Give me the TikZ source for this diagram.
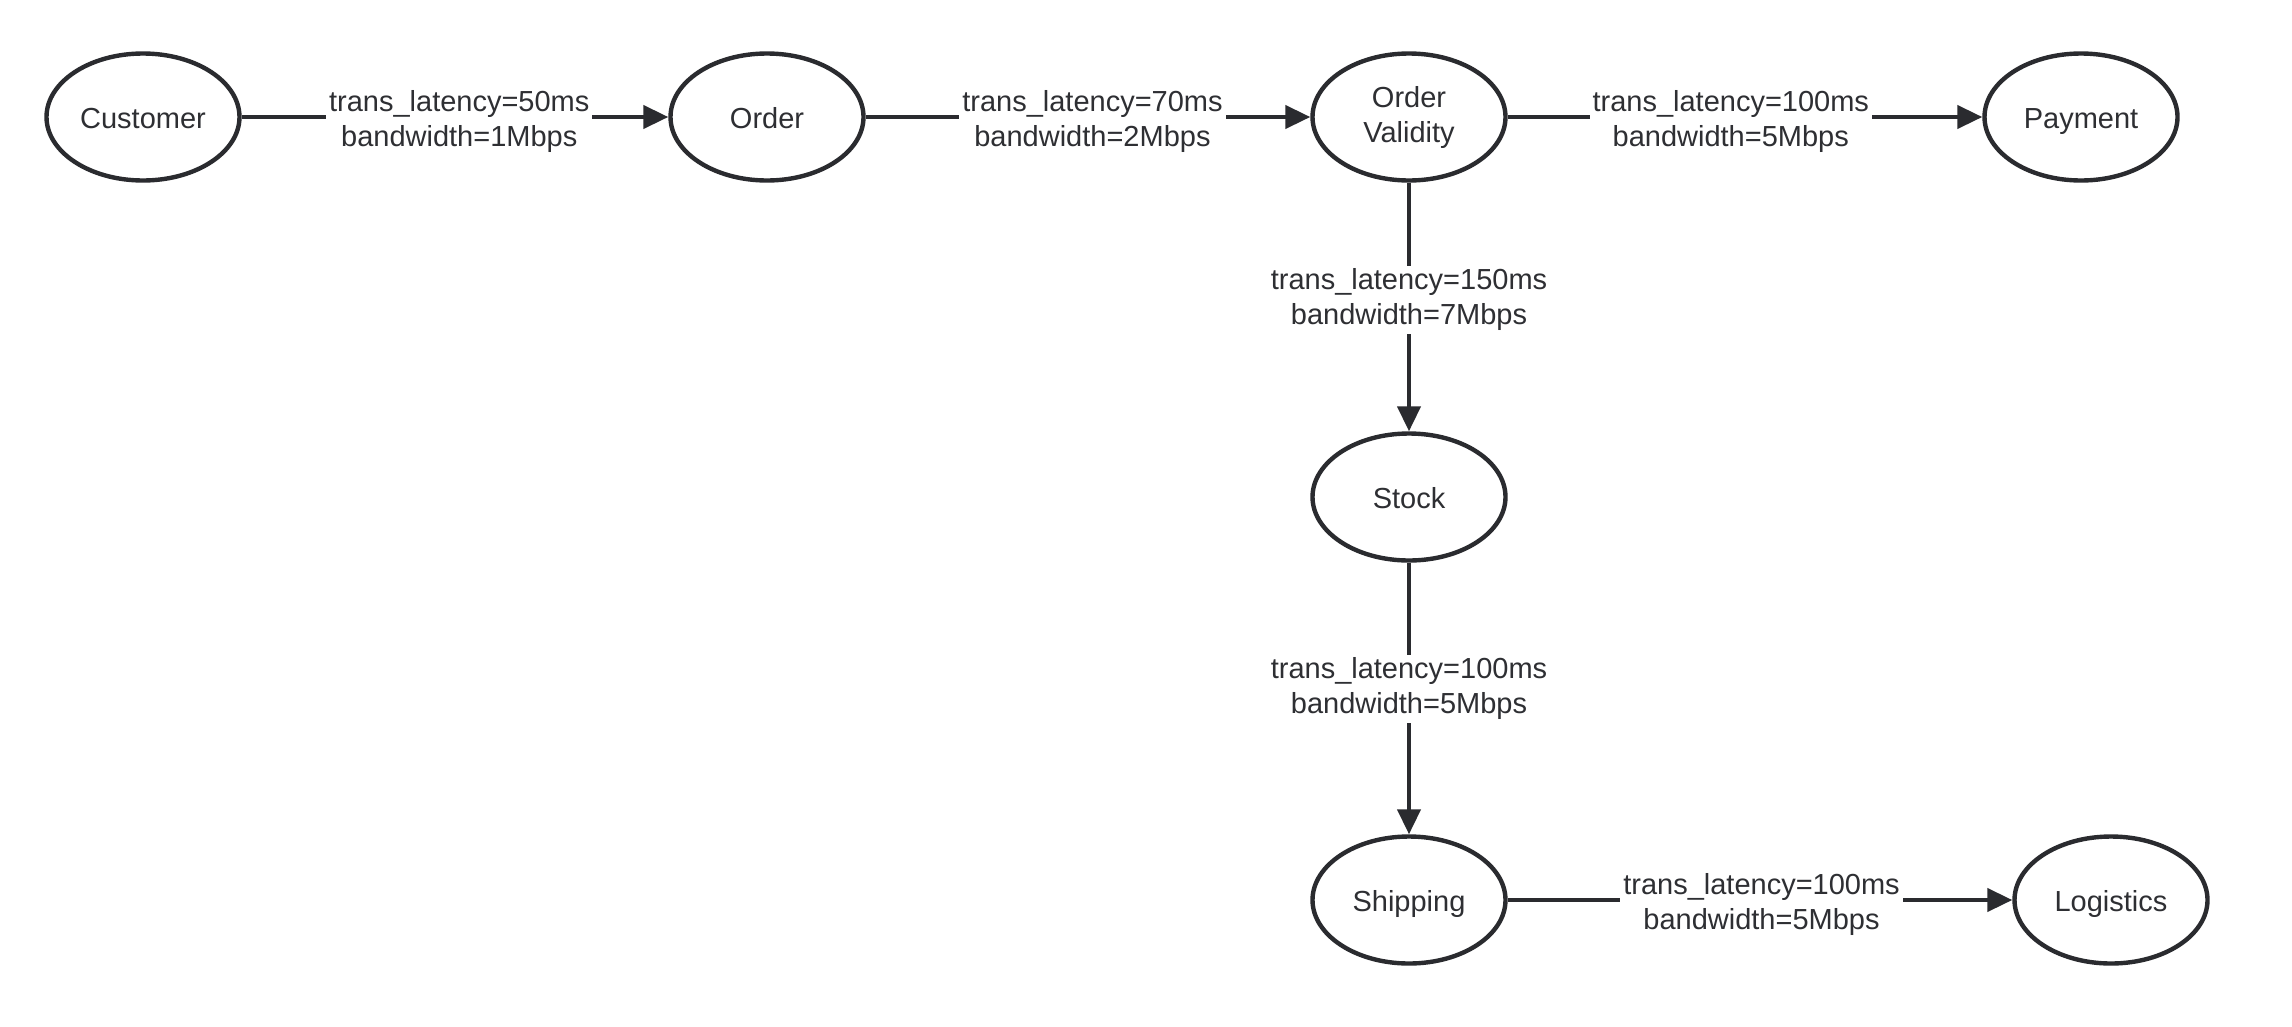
\documentclass[tikz,border=0pt]{standalone}
\usepackage{fontspec}
\setmainfont{Liberation Sans}
\usetikzlibrary{shapes.geometric,arrows.meta}
\definecolor{ink}{HTML}{2A2B2F}
\definecolor{txt}{HTML}{2E2F33}
\begin{document}
\begin{tikzpicture}[x=1pt,y=-1pt,
  state/.style={ellipse,draw=ink,line width=4.4pt,minimum width=193pt,minimum height=127pt,inner sep=0pt,
    text=txt,font=\fontsize{29}{35}\selectfont,align=center},
  word/.style={state,text height=23pt,text depth=0pt},
  link/.style={draw=ink,line width=4.2pt,-{Triangle[length=25pt,width=23pt]}},
  tag/.style={fill=white,text=txt,font=\fontsize{29}{35}\selectfont,align=center,inner sep=3pt,yshift=-4pt}]
\useasboundingbox[fill=white] (0,0) rectangle (2292,1026);
\node[word] (cust) at (143,117) {Customer};
\node[word] (ord)  at (767,117) {Order};
\node[state] (val)  at (1409,117) {Order\\Validity};
\node[word] (pay)  at (2081,117) {Payment};
\node[word] (stk)  at (1409,497) {Stock};
\node[word] (shp)  at (1409,900) {Shipping};
\node[word] (log)  at (2111,900) {Logistics};
\draw[link] (cust) -- node[tag,pos=0.51] {trans\_latency=50ms\\bandwidth=1Mbps} (ord);
\draw[link] (ord) -- node[tag,pos=0.51] {trans\_latency=70ms\\bandwidth=2Mbps} (val);
\draw[link] (val) -- node[tag,pos=0.47] {trans\_latency=100ms\\bandwidth=5Mbps} (pay);
\draw[link] (val) -- node[tag,pos=0.455] {trans\_latency=150ms\\bandwidth=7Mbps} (stk);
\draw[link] (stk) -- node[tag,pos=0.45] {trans\_latency=100ms\\bandwidth=5Mbps} (shp);
\draw[link] (shp) -- node[tag,pos=0.503] {trans\_latency=100ms\\bandwidth=5Mbps} (log);
\end{tikzpicture}
\end{document}
